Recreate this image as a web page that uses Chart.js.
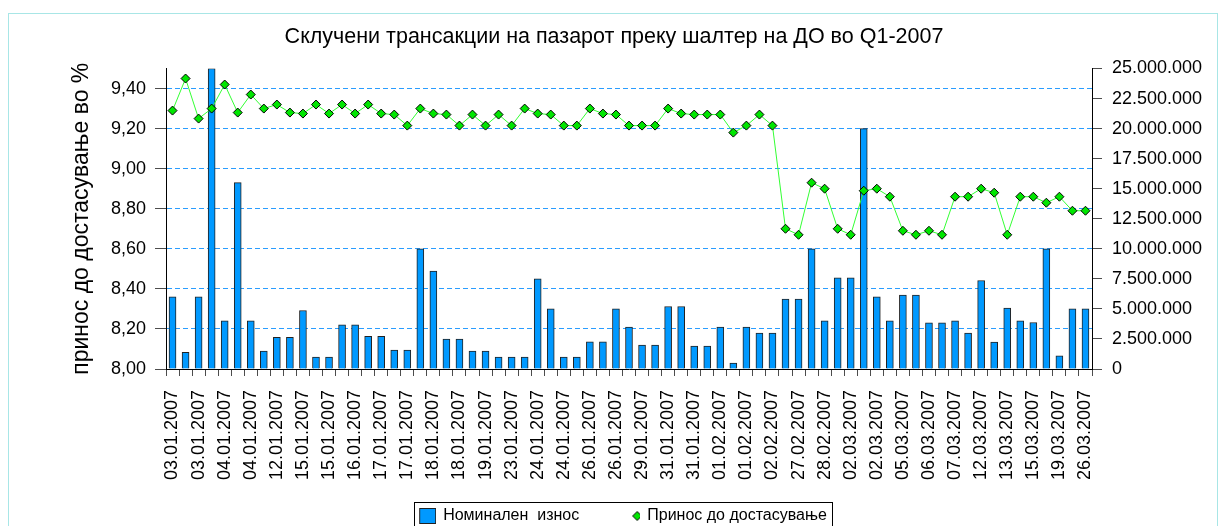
<!DOCTYPE html>
<html>
<head>
<meta charset="utf-8">
<script src="https://cdn.jsdelivr.net/npm/chart.js@4"></script>
<style>
html,body{margin:0;padding:0;background:#fff;}
#wrap{position:relative;width:1226px;height:526px;overflow:hidden;}
#frame{position:absolute;left:8px;top:13px;width:1210px;height:600px;border:1px solid #a8e6e6;box-sizing:border-box;}
#c{position:absolute;left:0;top:0;}
</style>
</head>
<body>
<div id="wrap"><div id="frame"></div><canvas id="c" width="1226" height="526"></canvas></div>
<script>
// ---- data ----
const chartTitle = 'Склучени трансакции на пазарот преку шалтер на ДО во Q1-2007';
const leftAxisTitle = 'принос до достасување во %';
const seriesNames = ['Номинален  износ', 'Принос до достасување'];

// dates shown under every other transaction (the others are not labelled in the picture)
const tickLabels = [
  '03.01.2007','03.01.2007','04.01.2007','04.01.2007','12.01.2007','15.01.2007',
  '15.01.2007','16.01.2007','17.01.2007','17.01.2007','18.01.2007','18.01.2007',
  '19.01.2007','23.01.2007','24.01.2007','24.01.2007','26.01.2007','26.01.2007',
  '29.01.2007','31.01.2007','31.01.2007','01.02.2007','01.02.2007','02.02.2007',
  '27.02.2007','28.02.2007','02.03.2007','02.03.2007','05.03.2007','06.03.2007',
  '07.03.2007','12.03.2007','13.03.2007','15.03.2007','19.03.2007','26.03.2007'
];

// nominal amount (right axis)
const nominal = [
  6000000, 1380000, 6000000, 25000000, 4000000, 15500000, 4000000, 1500000, 2630000, 2630000,
  4870000, 1000000, 1000000, 3680000, 3680000, 2710000, 2710000, 1580000, 1580000, 10000000,
  8150000, 2490000, 2490000, 1500000, 1500000, 1000000, 1000000, 1000000, 7500000, 5000000,
  1000000, 1000000, 2270000, 2270000, 5000000, 3490000, 2000000, 2000000, 5200000, 5200000,
  1910000, 1910000, 3490000, 500000, 3490000, 2990000, 2990000, 5820000, 5820000, 10000000,
  4000000, 7590000, 7590000, 20000000, 6000000, 4000000, 6150000, 6150000, 3850000, 3850000,
  4000000, 2990000, 7360000, 2240000, 5070000, 4000000, 3870000, 10000000, 1100000, 5000000,
  5000000
];

// yield to maturity in % (left axis)
const yieldPct = [
  9.29, 9.45, 9.25, 9.30, 9.42, 9.28, 9.37, 9.30, 9.32, 9.28,
  9.275, 9.32, 9.275, 9.32, 9.275, 9.32, 9.275, 9.27, 9.215, 9.30,
  9.275, 9.27, 9.215, 9.27, 9.215, 9.27, 9.215, 9.30, 9.275, 9.27,
  9.215, 9.215, 9.30, 9.275, 9.27, 9.215, 9.215, 9.215, 9.30, 9.275,
  9.27, 9.27, 9.27, 9.18, 9.215, 9.27, 9.215, 8.70, 8.67, 8.93,
  8.90, 8.70, 8.67, 8.89, 8.90, 8.86, 8.69, 8.67, 8.69, 8.67,
  8.86, 8.86, 8.90, 8.88, 8.67, 8.86, 8.86, 8.83, 8.86, 8.79,
  8.79
];

// categories: one per transaction, labelled dates on every other one
const categories = [];
tickLabels.forEach((d, i) => { categories.push(d); if (i < tickLabels.length - 1) categories.push(''); });

// ---- styling ----
const FONT = "'Liberation Sans', Arial, sans-serif";
Chart.defaults.font.family = FONT;
Chart.defaults.color = '#000';

const ICON_W = 36;      // legend symbol slot width
const ICON_LEAD = 18;   // blank lead before the square symbol
function makeSquareIcon() {
  const c = document.createElement('canvas'); c.width = ICON_W; c.height = 16;
  const g = c.getContext('2d');
  g.fillStyle = '#0099ff'; g.fillRect(19, 0, 17, 16);
  g.strokeStyle = '#222'; g.lineWidth = 1; g.strokeRect(19.5, 0.5, 16, 15);
  return c;
}
function makeDiamondIcon() {
  const c = document.createElement('canvas'); c.width = ICON_W; c.height = 12;
  const g = c.getContext('2d');
  const cx = 33, cy = 6, r = 4.5;
  g.beginPath(); g.moveTo(cx, cy - r); g.lineTo(cx + r, cy); g.lineTo(cx, cy + r); g.lineTo(cx - r, cy); g.closePath();
  g.fillStyle = '#00e600'; g.fill(); g.strokeStyle = '#000'; g.lineWidth = 1; g.stroke();
  return c;
}
const legendIcons = [makeSquareIcon(), makeDiamondIcon()];

const legendFrame = {
  id: 'legendFrame',
  afterDraw(chart) {
    const lg = chart.legend; if (!lg || !lg.legendHitBoxes.length) return;
    const hb = lg.legendHitBoxes;
    let l = Infinity, r = -Infinity;
    hb.forEach(b => { l = Math.min(l, b.left); r = Math.max(r, b.left + b.width); });
    l += ICON_LEAD;
    const top = hb[0].top - 6;
    const ctx = chart.ctx;
    ctx.save(); ctx.strokeStyle = '#000'; ctx.lineWidth = 1;
    ctx.strokeRect(Math.round(l - 5) + 0.5, Math.round(top) + 0.5, Math.round(r - l + 10), 60);
    ctx.restore();
  }
};

const fmtThousands = v => Math.round(v).toString().replace(/\B(?=(\d{3})+(?!\d))/g, '.');

new Chart(document.getElementById('c'), {
  type: 'bar',
  data: {
    labels: categories,
    datasets: [
      {
        type: 'bar', label: seriesNames[0], data: nominal, yAxisID: 'y2', xAxisID: 'x',
        backgroundColor: '#0099ff', borderColor: '#222', borderWidth: 1,
        barThickness: 7, order: 1
      },
      {
        type: 'line', label: seriesNames[1], data: yieldPct, yAxisID: 'y', xAxisID: 'x',
        borderColor: '#33ff33', borderWidth: 1, tension: 0, fill: false,
        pointStyle: 'rectRot', pointRadius: 4.5, pointBackgroundColor: '#00e600',
        pointBorderColor: '#000', pointBorderWidth: 1, order: 0
      }
    ]
  },
  options: {
    responsive: false,
    animation: false,
    events: [],
    layout: { padding: { left: 2, right: 0, top: 0, bottom: 0 } },
    plugins: {
      tooltip: { enabled: false },
      title: {
        display: true, text: chartTitle, color: '#000',
        font: { size: 21.5, weight: 'normal', family: FONT, lineHeight: 1.2 },
        padding: { top: 24.1, bottom: 18.6 }
      },
      legend: {
        display: true, position: 'bottom', maxHeight: 44,
        labels: {
          usePointStyle: true, pointStyleWidth: 34, boxWidth: 34, boxHeight: 16, padding: 26,
          color: '#000', font: { size: 16, family: FONT },
          generateLabels(chart) {
            const items = Chart.defaults.plugins.legend.labels.generateLabels(chart);
            items.sort((a, b) => a.datasetIndex - b.datasetIndex);
            items.forEach(it => { it.pointStyle = legendIcons[it.datasetIndex]; it.rotation = 0; });
            return items;
          }
        }
      }
    },
    scales: {
      x: {
        type: 'category', position: 'bottom', offset: true,
        grid: { display: true, drawOnChartArea: false, offset: true, tickLength: 7, color: '#4d4d4d', tickColor: '#4d4d4d' },
        border: { display: true, color: '#000', width: 1 },
        ticks: { autoSkip: false, minRotation: 90, maxRotation: 90, padding: 14, font: { size: 18 }, color: '#000' },
        afterFit(s) { s.height = 113; }
      },
      y: {
        type: 'linear', position: 'left', min: 8, max: 9.5,
        ticks: { stepSize: 0.2, includeBounds: false, padding: 9, font: { size: 18 }, color: '#000',
                 callback: v => v.toFixed(2).replace('.', ',') },
        grid: {
          drawOnChartArea: true, tickLength: 11, lineWidth: 1,
          color: ctx => (ctx.tick && Math.abs(ctx.tick.value - 8) < 1e-9) ? 'rgba(0,0,0,0)' : '#2a9dff',
          tickColor: '#4d4d4d', tickBorderDash: []
        },
        border: { display: true, color: '#000', width: 1, dash: [5, 3] },
        title: { display: true, text: leftAxisTitle, color: '#000', font: { size: 23, family: FONT, lineHeight: 1.2 }, padding: { top: 66.2, bottom: 0 } },
        afterFit(s) { s.width = 164; }
      },
      y2: {
        type: 'linear', position: 'right', min: 0, max: 25000000,
        ticks: { stepSize: 2500000, padding: 10, font: { size: 18 }, color: '#000', callback: v => fmtThousands(v) },
        grid: { drawOnChartArea: false, tickLength: 10, color: '#4d4d4d', tickColor: '#4d4d4d' },
        border: { display: true, color: '#000', width: 1 },
        afterFit(s) { s.width = 134; }
      }
    }
  },
  plugins: [legendFrame]
});
</script>
</body>
</html>
